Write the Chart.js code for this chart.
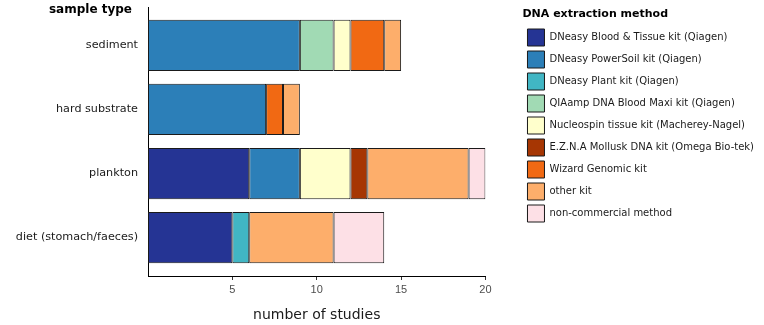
<!DOCTYPE html>
<html>
<head>
<meta charset="utf-8">
<script src="https://cdn.jsdelivr.net/npm/chart.js@4.4.1/dist/chart.umd.min.js"></script>
<style>
  html, body { margin: 0; padding: 0; background: #fff; }
  #wrap { width: 764px; height: 325px; }
</style>
</head>
<body>
<div id="wrap"><canvas id="studies" width="764" height="325"></canvas></div>
<script>
// sample types, top to bottom
const sampleTypes = ['sediment', 'hard substrate', 'plankton', 'diet (stomach/faeces)'];

// number of studies per extraction method, one value per sample type
const bloodTissue   = [0, 0, 6, 5];
const powerSoil     = [9, 7, 3, 0];
const plantKit      = [0, 0, 0, 1];
const qiaampMaxi    = [2, 0, 0, 0];
const nucleospin    = [1, 0, 3, 0];
const eznaMollusk   = [0, 0, 1, 0];
const wizardGenomic = [2, 1, 0, 0];
const otherKit      = [1, 1, 6, 5];
const nonCommercial = [0, 0, 1, 3];

const xTicks = [5, 10, 15, 20];

const methods = [
  { label: 'DNeasy Blood & Tissue kit (Qiagen)', values: bloodTissue, color: '#253494' },
  { label: 'DNeasy PowerSoil kit (Qiagen)', values: powerSoil, color: '#2c7fb8' },
  { label: 'DNeasy Plant kit (Qiagen)', values: plantKit, color: '#41b6c4' },
  { label: 'QIAamp DNA Blood Maxi kit (Qiagen)', values: qiaampMaxi, color: '#a1dab4' },
  { label: 'Nucleospin tissue kit (Macherey-Nagel)', values: nucleospin, color: '#ffffcc' },
  { label: 'E.Z.N.A Mollusk DNA kit (Omega Bio-tek)', values: eznaMollusk, color: '#a63603' },
  { label: 'Wizard Genomic kit', values: wizardGenomic, color: '#f16913' },
  { label: 'other kit', values: otherKit, color: '#fdae6b' },
  { label: 'non-commercial method', values: nonCommercial, color: '#fde0e6' }
];

// categories sit at 1..n on a linear axis so the padding around them can be set freely
const datasets = methods.map(m => ({
  label: m.label,
  data: m.values.map((v, i) => ({ x: v > 0 ? v : null, y: i + 1 })),
  backgroundColor: m.color,
  borderColor: '#1a1a1a',
  borderWidth: 1,
  borderSkipped: false,
  barPercentage: 0.8,
  categoryPercentage: 1
}));

// bold y-axis heading above the category labels
const axisHeading = {
  id: 'axisHeading',
  afterDraw(chart) {
    const { ctx, scales } = chart;
    ctx.save();
    ctx.font = 'bold 12px "DejaVu Sans"';
    ctx.fillStyle = '#000';
    ctx.textAlign = 'right';
    ctx.textBaseline = 'middle';
    ctx.fillText('sample type', scales.y.right - 16, 10);
    ctx.restore();
  }
};

new Chart(document.getElementById('studies'), {
  type: 'bar',
  data: { datasets },
  options: {
    indexAxis: 'y',
    responsive: false,
    animation: false,
    layout: { padding: { top: 7, right: 0, bottom: 0, left: 0 } },
    scales: {
      x: {
        type: 'linear',
        stacked: true,
        min: 0,
        max: 20,
        afterBuildTicks: s => { s.ticks = xTicks.map(v => ({ value: v })); },
        afterFit: s => { s.height = 49; },
        grid: { display: true, drawOnChartArea: false, drawTicks: true, tickLength: 4, color: '#333' },
        border: { display: true, color: '#000', width: 1 },
        ticks: { padding: 3, color: '#4d4d4d', font: { family: 'Liberation Sans', size: 11 } },
        title: {
          display: true,
          text: 'number of studies',
          color: '#1a1a1a',
          font: { family: 'DejaVu Sans', size: 14 },
          padding: { top: 0, bottom: 1 }
        }
      },
      y: {
        type: 'linear',
        stacked: true,
        reverse: true,
        offset: false,
        min: 0.4,
        max: 4.6,
        afterBuildTicks: s => { s.ticks = sampleTypes.map((c, i) => ({ value: i + 1 })); },
        afterFit: s => { s.width = 148; s.paddingTop = 0; s.paddingBottom = 0; },
        grid: { display: false, drawTicks: false },
        border: { display: true, color: '#000', width: 1 },
        ticks: {
          padding: 10,
          color: '#1a1a1a',
          font: { family: 'DejaVu Sans', size: 11.2 },
          callback: v => sampleTypes[v - 1]
        }
      },
      // empty spacer between the plot and the legend
      gap: {
        type: 'linear',
        axis: 'y',
        position: 'right',
        display: true,
        grid: { display: false },
        border: { display: false },
        ticks: { display: false },
        afterFit: s => { s.width = 37; s.paddingTop = 0; s.paddingBottom = 0; }
      }
    },
    plugins: {
      tooltip: { enabled: false },
      legend: {
        position: 'right',
        align: 'start',
        maxWidth: 260,
        title: {
          display: true,
          text: 'DNA extraction method',
          position: 'start',
          color: '#000',
          font: { family: 'DejaVu Sans', size: 11, weight: 'bold' },
          padding: { top: 1.5, bottom: 2.3 }
        },
        labels: {
          boxWidth: 17,
          boxHeight: 17,
          padding: 5,
          color: '#1a1a1a',
          font: { family: 'DejaVu Sans', size: 10 }
        }
      }
    }
  },
  plugins: [axisHeading]
});
</script>
</body>
</html>
